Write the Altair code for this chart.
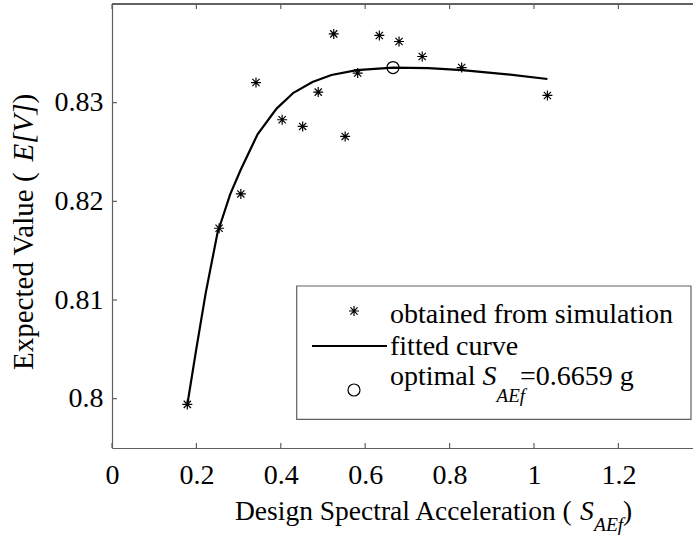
import altair as alt
import pandas as pd

# ---- data ----
sim_x = [0.1785, 0.2538, 0.3053, 0.3412, 0.4032, 0.4518, 0.4887, 0.5255,
         0.5525, 0.5822, 0.6335, 0.6802, 0.7351, 0.8286, 1.0318]
sim_y = [0.79942, 0.81727, 0.82075, 0.83204, 0.82827, 0.82759, 0.83107, 0.83697,
         0.82658, 0.83300, 0.83681, 0.83620, 0.83468, 0.83356, 0.83073]

fit_x = [0.1785, 0.2, 0.222, 0.25, 0.28, 0.305, 0.345, 0.39, 0.43, 0.475,
         0.52, 0.58, 0.6659, 0.75, 0.83, 0.93, 1.0318]
fit_y = [0.7994, 0.8051, 0.8107, 0.8168, 0.8207, 0.8232, 0.8268, 0.8294, 0.8310, 0.8321,
         0.8328, 0.8333, 0.83356, 0.8335, 0.8333, 0.8329, 0.8324]

opt_x = [0.6659]
opt_y = [0.83356]

x_ticks = [0, 0.2, 0.4, 0.6, 0.8, 1.0, 1.2]
y_ticks = [0.80, 0.81, 0.82, 0.83]

W, H = 581, 444
FONT = "'Liberation Serif', 'Times New Roman', serif"
AX = "#606060"

xs = alt.Scale(domain=[0, 1.3768], nice=False, zero=False)
ys = alt.Scale(domain=[0.795, 0.84], nice=False, zero=False)

ASTERISK = "M-1,0L1,0M0,-1L0,1M-0.72,-0.72L0.72,0.72M-0.72,0.72L0.72,-0.72"

sim_df = pd.DataFrame({"x": sim_x, "y": sim_y})
fit_df = pd.DataFrame({"x": fit_x, "y": fit_y})
opt_df = pd.DataFrame({"x": opt_x, "y": opt_y})
xt_df = pd.DataFrame({"x": x_ticks})
yt_df = pd.DataFrame({"y": y_ticks})

base_x = alt.X("x:Q", scale=xs, axis=alt.Axis(
    values=x_ticks, format=".1~f", title=None, grid=False, ticks=False, tickSize=0,
    labelPadding=35, labelBaseline="alphabetic", labelFont=FONT, labelFontSize=28,
    labelColor="black", domainColor=AX, domainWidth=1.2, labelFlush=False))
base_y = alt.Y("y:Q", scale=ys, axis=alt.Axis(
    values=y_ticks, format=".2~f", title=None, grid=False, ticks=False, tickSize=0,
    labelPadding=9, labelFont=FONT, labelFontSize=28, labelColor="black",
    domainColor=AX, domainWidth=1.2))

curve = alt.Chart(fit_df).mark_line(color="black", strokeWidth=2.2).encode(
    x=base_x, y=base_y)

stars = alt.Chart(sim_df).mark_point(shape=ASTERISK, filled=False, color="black",
                                     size=100, strokeWidth=1.2, opacity=1).encode(
    x=alt.X("x:Q", scale=xs), y=alt.Y("y:Q", scale=ys))

opt = alt.Chart(opt_df).mark_point(shape="circle", filled=False, color="black",
                                   size=144, strokeWidth=1.2, opacity=1).encode(
    x=alt.X("x:Q", scale=xs), y=alt.Y("y:Q", scale=ys))

# inward ticks and top border
top_border = alt.Chart(xt_df).mark_rule(color=AX, strokeWidth=1.2).encode(
    x=alt.value(0), x2=alt.value(W), y=alt.value(0))
bot_ticks = alt.Chart(xt_df).mark_rule(color=AX, strokeWidth=1.2).encode(
    x=alt.X("x:Q", scale=xs), y=alt.value(H), y2=alt.value(H - 5))
top_ticks = alt.Chart(xt_df).mark_rule(color=AX, strokeWidth=1.2).encode(
    x=alt.X("x:Q", scale=xs), y=alt.value(0), y2=alt.value(5))
left_ticks = alt.Chart(yt_df).mark_rule(color=AX, strokeWidth=1.2).encode(
    y=alt.Y("y:Q", scale=ys), x=alt.value(0), x2=alt.value(5))


def txt(label, x, y, size=28, italic=False, align="left", angle=0, baseline="alphabetic"):
    kw = dict(font=FONT, fontSize=size, color="black", align=align, baseline=baseline)
    if italic:
        kw["fontStyle"] = "italic"
    if angle:
        kw["angle"] = angle
    return alt.Chart(pd.DataFrame({"t": [label]})).mark_text(**kw).encode(
        text="t:N", x=alt.value(x), y=alt.value(y))


# x-axis title
x_title = [
    txt("Design Spectral Acceleration ( ", 123, 516, size=27.5),
    txt("S", 468, 516, size=27.5, italic=True),
    txt("AEf", 482, 527, size=19.5, italic=True),
    txt(" )", 511, 516, size=27.5),
]

# y-axis title (rotated)
yb = 370 - 4
y_title = [
    txt("Expected Value ( ", -79, yb, size=29, angle=270),
    txt("E[V]", -79, yb - 208.6, size=29, italic=True, angle=270),
    txt(" )", -79, yb - 266.6, size=29, angle=270),
]

# legend
LX0, LY0 = 296.7 - 112, 286 - 4
LX1, LY1 = 691 - 112, 419.3 - 4
TX = 278
leg_box = alt.Chart(xt_df.head(1)).mark_rect(fill="white", stroke=AX, strokeWidth=1.2).encode(
    x=alt.value(LX0), x2=alt.value(LX1), y=alt.value(LY0), y2=alt.value(LY1))
leg_star = alt.Chart(xt_df.head(1)).mark_point(shape=ASTERISK, filled=False, color="black",
                                               size=100, strokeWidth=1.2, opacity=1).encode(
    x=alt.value(354 - 112), y=alt.value(311 - 4))
leg_line = alt.Chart(xt_df.head(1)).mark_rule(color="black", strokeWidth=2.2).encode(
    x=alt.value(312 - 112), x2=alt.value(387 - 112), y=alt.value(346 - 4))
leg_circ = alt.Chart(xt_df.head(1)).mark_point(shape="circle", filled=False, color="black",
                                               size=144, strokeWidth=1.2, opacity=1).encode(
    x=alt.value(354 - 112), y=alt.value(390 - 4))
leg_text = [
    txt("obtained from simulation", TX, 319),
    txt("fitted curve", TX, 351),
    txt("optimal ", TX, 381),
    txt("S", TX + 92.6, 381, italic=True),
    txt("AEf", TX + 106.6, 397.5, size=19, italic=True),
    txt("=0.6659 g", TX + 130, 381),
]

chart = alt.layer(
    curve, top_border, bot_ticks, top_ticks, left_ticks, stars, opt,
    *x_title, *y_title,
    leg_box, leg_star, leg_line, leg_circ, *leg_text
).properties(
    width=W, height=H,
    autosize=alt.AutoSizeParams(type="none"),
    padding={"left": 112, "top": 4, "right": 0, "bottom": 88},
    background="white",
).configure_view(strokeWidth=0)

chart.save("out.html", embed_options={"renderer": "svg", "actions": False})
